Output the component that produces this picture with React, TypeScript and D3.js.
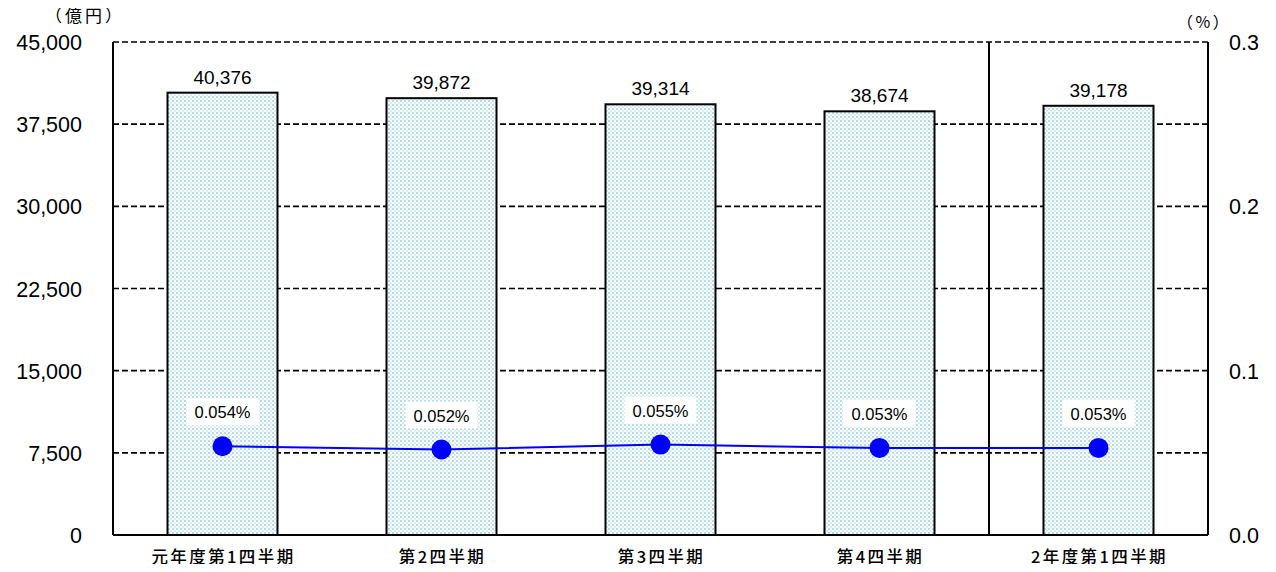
import React from "react";
import * as d3 from "d3";

const categories = ["元年度第1四半期", "第2四半期", "第3四半期", "第4四半期", "2年度第1四半期"];
const amounts = [40376, 39872, 39314, 38674, 39178];
const rates = [0.054, 0.052, 0.055, 0.053, 0.053];
const leftTicks = [0, 7500, 15000, 22500, 30000, 37500, 45000];
const rightTicks = [0.0, 0.1, 0.2, 0.3];

const W = 1276, H = 572;
const M = { left: 113, right: 1208, top: 42, bottom: 535 };
const FONT = "'Noto Sans CJK JP', 'Noto Sans', sans-serif";
const NUM = "'Liberation Sans', Arial, sans-serif";

export default function App() {
  const x = d3.scaleBand<string>().domain(categories).range([M.left, M.right]).padding(0);
  const yL = d3.scaleLinear().domain([0, 45000]).range([M.bottom, M.top]);
  const yR = d3.scaleLinear().domain([0, 0.3]).range([M.bottom, M.top]);
  const barW = 110;
  const line = d3.line<number>()
    .x((_, i) => (x(categories[i]) as number) + x.bandwidth() / 2)
    .y((d) => yR(d));
  const fmt = d3.format(",");
  const sepX = x(categories[4]) as number;

  return (
    <div style={{ margin: -8 }}>
      <svg width={W} height={H} style={{ display: "block", background: "#fff" }}>
        <defs>
          <pattern id="dots" width="4" height="4" patternUnits="userSpaceOnUse">
            <rect width="4" height="4" fill="#ffffff" />
            <rect x="0" y="0" width="2" height="2" fill="#b3dcea" />
            <rect x="2" y="2" width="2" height="2" fill="#d6edf5" />
          </pattern>
        </defs>
        {/* gridlines */}
        {leftTicks.filter((t) => t > 0).map((t) => (
          <line key={t} x1={M.left} x2={M.right} y1={yL(t)} y2={yL(t)}
            stroke="#000" strokeWidth={1.6} strokeDasharray="6,3" />
        ))}
        {/* bars */}
        {amounts.map((v, i) => {
          const cx = (x(categories[i]) as number) + x.bandwidth() / 2;
          return (
            <g key={i}>
              <rect x={cx - barW / 2} y={yL(v)} width={barW} height={yL(0) - yL(v)}
                fill="url(#dots)" stroke="#000" strokeWidth={2} />
              <text x={cx} y={yL(v) - 9} textAnchor="middle" fontFamily={NUM} fontSize={19} fill="#000">
                {fmt(v)}
              </text>
            </g>
          );
        })}
        {/* frame */}
        <line x1={M.left} x2={M.left} y1={M.top} y2={M.bottom} stroke="#000" strokeWidth={2} />
        <line x1={M.right} x2={M.right} y1={M.top} y2={M.bottom} stroke="#000" strokeWidth={2} />
        <line x1={M.left} x2={M.right} y1={M.bottom} y2={M.bottom} stroke="#000" strokeWidth={2} />
        <line x1={sepX} x2={sepX} y1={M.top} y2={M.bottom} stroke="#000" strokeWidth={2} />
        {/* rate line */}
        <path d={line(rates) || ""} fill="none" stroke="#0000ff" strokeWidth={2} />
        {rates.map((r, i) => {
          const cx = (x(categories[i]) as number) + x.bandwidth() / 2;
          return (
            <g key={i}>
              <circle cx={cx} cy={yR(r)} r={10} fill="#0000ff" />
              <rect x={cx - 36} y={yR(r) - 48} width={72} height={27} fill="#fff" />
              <text x={cx} y={yR(r) - 28} textAnchor="middle" fontFamily={NUM} fontSize={16.5} fill="#000">
                {(r).toFixed(3)}%
              </text>
            </g>
          );
        })}
        {/* left axis */}
        {leftTicks.map((t) => (
          <text key={t} x={82} y={yL(t) + 8} textAnchor="end" fontFamily={NUM} fontSize={21.5} fill="#000">
            {fmt(t)}
          </text>
        ))}
        {/* right axis */}
        {rightTicks.map((t) => (
          <text key={t} x={1229} y={yR(t) + 8} textAnchor="start" fontFamily={NUM} fontSize={21.5} fill="#000">
            {t.toFixed(1)}
          </text>
        ))}
        {/* categories */}
        {categories.map((c) => (
          <text key={c} x={(x(c) as number) + x.bandwidth() / 2 + 1} y={563} textAnchor="middle"
            fontFamily={FONT} fontSize={16.5} letterSpacing={2.4} fontWeight={500} fill="#000">
            {c}
          </text>
        ))}
        <text x={45} y={22} textAnchor="start" fontFamily={FONT} fontSize={17} letterSpacing={3} fill="#000">（億円）</text>
        <text x={1177} y={28} textAnchor="start" fontFamily={FONT} fontSize={16} letterSpacing={2.5} fill="#000">（%）</text>
      </svg>
    </div>
  );
}
